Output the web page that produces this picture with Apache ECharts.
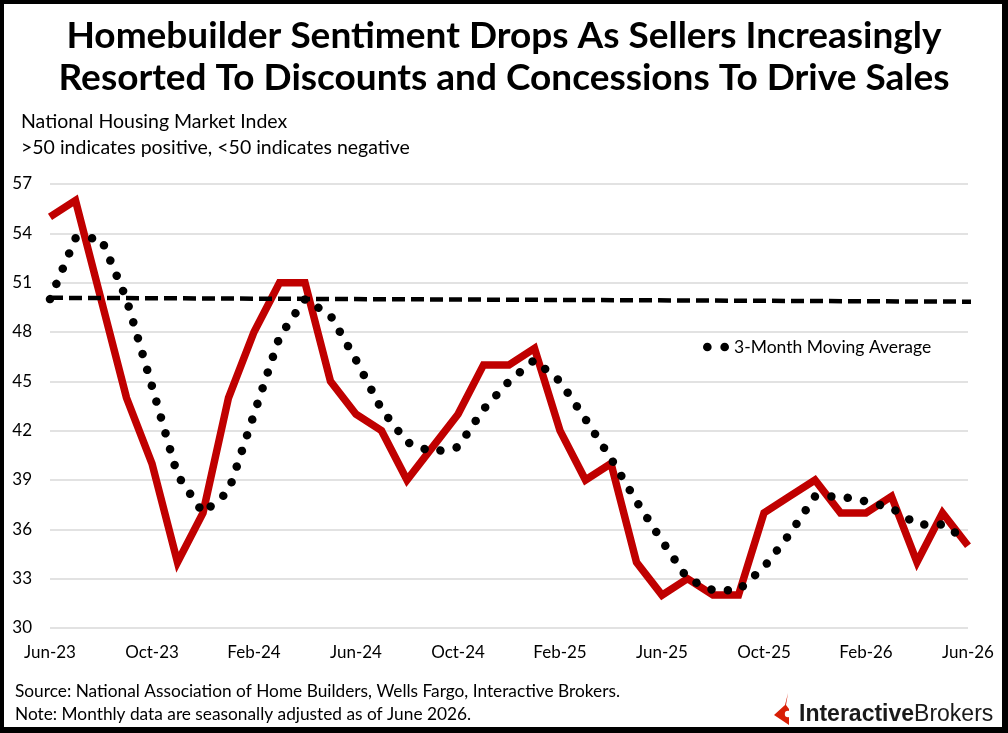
<!DOCTYPE html>
<html>
<head>
<meta charset="utf-8">
<script src="https://cdn.jsdelivr.net/npm/echarts@6/dist/echarts.min.js"></script>
<style>
  html, body { margin: 0; padding: 0; background: #fff; }
  #wrap { position: relative; width: 1008px; height: 733px; }
  #chart { width: 1008px; height: 733px; }
  #frame { position: absolute; left: 0; top: 0; width: 1008px; height: 733px; box-sizing: border-box;
           border-style: solid; border-color: #000; border-width: 4px 6px 6px 4px; pointer-events: none; }
</style>
</head>
<body>
<div id="wrap">
  <div id="chart"></div>
  <div id="frame"></div>
</div>
<script>
// months Jun-23 .. Jun-26
var months = ['Jun-23','Jul-23','Aug-23','Sep-23','Oct-23','Nov-23','Dec-23',
  'Jan-24','Feb-24','Mar-24','Apr-24','May-24','Jun-24','Jul-24','Aug-24','Sep-24','Oct-24','Nov-24','Dec-24',
  'Jan-25','Feb-25','Mar-25','Apr-25','May-25','Jun-25','Jul-25','Aug-25','Sep-25','Oct-25','Nov-25','Dec-25',
  'Jan-26','Feb-26','Mar-26','Apr-26','May-26','Jun-26'];

// NAHB housing market index
var hmi = [55, 56, 50, 44, 40, 34, 37,
  44, 48, 51, 51, 45, 43, 42, 39, 41, 43, 46, 46,
  47, 42, 39, 40, 34, 32, 33, 32, 32, 37, 38, 39,
  37, 37, 38, 34, 37, 35];

// 3-month moving average (dotted)
var movingAvg = [50, 53.7, 53.7, 50, 44.7, 39.3, 37,
  38.3, 43, 47.7, 50, 49, 46.3, 43.3, 41.3, 40.7, 41, 43.3, 45,
  46.3, 45, 42.7, 40.3, 37.7, 35.3, 33, 32.3, 32.3, 33.7, 35.7, 38,
  38, 37.7, 37.3, 36.3, 36.3, 35.3];

// the dashed 50 line (start and end, slightly past the last month)
var neutralLine = [[0, 50.08], [36.65, 49.84]];

var yTicks = [30, 33, 36, 39, 42, 45, 48, 51, 54, 57];

var font = 'Lato, "Open Sans", sans-serif';

var myChart = echarts.init(document.getElementById('chart'));

var option = {
  animation: false,
  backgroundColor: '#fff',
  title: [{
    text: 'Homebuilder Sentiment Drops As Sellers Increasingly\nResorted To Discounts and Concessions To Drive Sales',
    left: 'center',
    top: 10,
    textStyle: { fontFamily: font, fontWeight: 'bold', fontSize: 37, lineHeight: 42, color: '#000' }
  }, {
    text: 'National Housing Market Index\n>50 indicates positive, <50 indicates negative',
    left: 16,
    top: 104,
    textStyle: { fontFamily: font, fontWeight: 'normal', fontSize: 19.5, lineHeight: 26, color: '#000' }
  }, {
    text: 'Source: National Association of Home Builders, Wells Fargo, Interactive Brokers.\nNote: Monthly data are seasonally adjusted as of June 2026.',
    left: 10,
    top: 675,
    textStyle: { fontFamily: font, fontWeight: 'normal', fontSize: 17.3, lineHeight: 23, color: '#000' }
  }],
  legend: {
    data: ['3-Month Moving Average'],
    left: 698,
    top: 333,
    itemWidth: 26,
    itemHeight: 9,
    itemGap: 12,
    icon: 'path://M0,5a5,5 0 1,0 10,0a5,5 0 1,0 -10,0M20,5a5,5 0 1,0 10,0a5,5 0 1,0 -10,0',
    textStyle: { fontFamily: font, fontSize: 17.5, color: '#000' }
  },
  grid: { left: 50, right: 40, top: 184, bottom: 105 },
  xAxis: [{
    type: 'category',
    data: months,
    boundaryGap: false,
    axisLine: { show: false },
    axisTick: { show: false },
    axisLabel: { interval: 3, margin: 16, fontFamily: font, fontSize: 17, color: '#000' }
  }, {
    type: 'value',
    min: 0,
    max: months.length - 1,
    show: false
  }],
  yAxis: {
    type: 'value',
    min: yTicks[0],
    max: yTicks[yTicks.length - 1],
    interval: 3,
    axisLine: { show: false },
    axisTick: { show: false },
    axisLabel: { margin: 18, fontFamily: font, fontSize: 17, color: '#000' },
    splitLine: { lineStyle: { color: '#d9d9d9', width: 1.5 } }
  },
  series: [{
    name: 'Housing Market Index',
    type: 'line',
    data: hmi,
    symbol: 'none',
    lineStyle: { color: '#c00000', width: 7.5, join: 'miter' },
    z: 2
  }, {
    name: '3-Month Moving Average',
    type: 'line',
    data: movingAvg,
    symbol: 'none',
    itemStyle: { color: '#000' },
    lineStyle: { color: '#000', width: 8.5, type: [0.01, 16.5], cap: 'round' },
    z: 3
  }, {
    name: 'Neutral',
    type: 'line',
    xAxisIndex: 1,
    data: neutralLine,
    symbol: 'none',
    clip: false,
    lineStyle: { color: '#000', width: 4.5, type: [13, 6] },
    z: 4
  }],
  graphic: [{
    type: 'group',
    left: 774,
    top: 693,
    children: [{
      type: 'polygon',
      shape: { points: [[14, 0], [11, 12], [0, 22], [15, 32], [15, 16], [12, 12]] },
      style: { fill: '#d81e05' }
    }, {
      type: 'circle',
      shape: { cx: 14, cy: 21, r: 3.2 },
      style: { fill: '#fff' }
    }, {
      type: 'text',
      x: 25,
      y: 10,
      style: {
        text: '{b|Interactive}{r|Brokers}',
        rich: {
          b: { fontFamily: '"Liberation Sans", Arial, sans-serif', fontWeight: 'bold', fontSize: 23, fill: '#1a1a1a' },
          r: { fontFamily: '"Liberation Sans", Arial, sans-serif', fontWeight: 'normal', fontSize: 23, fill: '#1a1a1a' }
        }
      }
    }]
  }]
};

myChart.setOption(option);
</script>
</body>
</html>
